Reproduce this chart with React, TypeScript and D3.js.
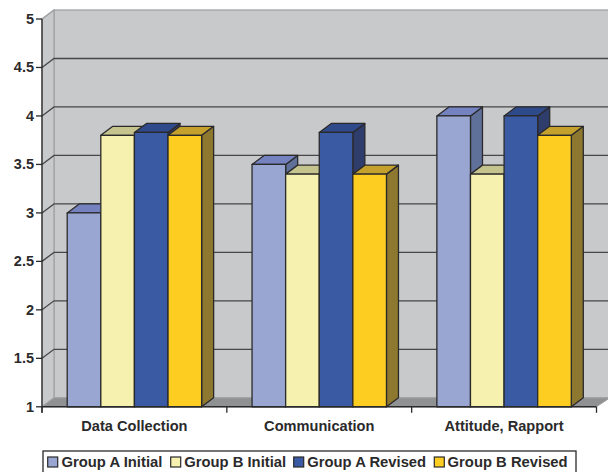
import React from "react";
import * as d3 from "d3";

const categories = ["Data Collection", "Communication", "Attitude, Rapport"];
const seriesNames = ["Group A Initial", "Group B Initial", "Group A Revised", "Group B Revised"];
const groupAInitial = [3, 3.5, 4];
const groupBInitial = [3.8, 3.4, 3.4];
const groupARevised = [3.83, 3.83, 4];
const groupBRevised = [3.8, 3.4, 3.8];
const seriesValues = [groupAInitial, groupBInitial, groupARevised, groupBRevised];
const yTicks = [1, 1.5, 2, 2.5, 3, 3.5, 4, 4.5, 5];

// front face, top face and side face of each series
const frontFill = ["#9aa6d2", "#f6f1ae", "#3a5aa4", "#fdcd22"];
const topFill = ["#7482c0", "#c6c48e", "#2f4a8a", "#c4a02c"];
const sideFill = ["#5f7099", "#8f8c5c", "#2e3d6c", "#8e772e"];

const ink = "#2b2a2b";
const wall = "#c8c9cb";
const wallEdge = "#a3a4a6";
const floor = "#8f9193";
const font = "'Liberation Sans', Arial, sans-serif";

const W = 608;
const H = 472;
const depthX = 12;
const depthY = 9;

const y = d3.scaleLinear().domain([1, 5]).range([406.8, 19]);
const x0 = d3.scaleBand<string>().domain(categories).range([42, 596.5]);
const x1 = d3
  .scaleBand<string>()
  .domain(seriesNames)
  .range([0, x0.bandwidth()])
  .paddingInner(0)
  .paddingOuter(0.75);

const poly = (pts: [number, number][]) => pts.map((p) => p.join(",")).join(" ");

function Bar({ x, w, top, s }: { x: number; w: number; top: number; s: number }) {
  const bottom = y(1);
  return (
    <g stroke={ink} strokeWidth={1.3} strokeLinejoin="round">
      <polygon
        points={poly([
          [x + w, top],
          [x + w + depthX, top - depthY],
          [x + w + depthX, bottom - depthY],
          [x + w, bottom],
        ])}
        fill={sideFill[s]}
      />
      <polygon
        points={poly([
          [x, top],
          [x + depthX, top - depthY],
          [x + w + depthX, top - depthY],
          [x + w, top],
        ])}
        fill={topFill[s]}
      />
      <rect x={x} y={top} width={w} height={bottom - top} fill={frontFill[s]} />
    </g>
  );
}

const legendSwatches = [47.7, 170.7, 293.7, 434.3];
const legendLabels = [61.5, 184.2, 307.2, 447.6];

export default function App() {
  const left = x0.range()[0];
  const right = x0.range()[1];
  const bottom = y(1);
  const top = y(5);
  const ticksX = [...categories.map((c) => x0(c) as number), right];

  return (
    <svg
      width={W}
      height={H}
      viewBox={`0 0 ${W} ${H}`}
      style={{ position: "absolute", left: 0, top: 0, background: "#fff" }}
    >
      {/* chart walls and floor */}
      <rect x={left + depthX} y={top - depthY} width={W - left - depthX + 2} height={bottom - top} fill={wall} stroke={wallEdge} strokeWidth={1.3} />
      <polygon
        points={poly([
          [left, top],
          [left + depthX, top - depthY],
          [left + depthX, bottom - depthY],
          [left, bottom],
        ])}
        fill={wall}
        stroke={wallEdge}
        strokeWidth={1.3}
      />
      <polygon
        points={poly([
          [left, bottom],
          [left + depthX, bottom - depthY],
          [W + 2, bottom - depthY],
          [right, bottom],
        ])}
        fill={floor}
        stroke={wallEdge}
        strokeWidth={1}
      />

      {/* gridlines along the side and back walls */}
      {yTicks.slice(1).map((t) =>
        t === 5 ? null : (
          <polyline
            key={t}
            points={poly([
              [left, y(t)],
              [left + depthX, y(t) - depthY],
              [W, y(t) - depthY],
            ])}
            fill="none"
            stroke="#47474a"
            strokeWidth={1.3}
          />
        )
      )}
      <line x1={left} y1={top} x2={left + depthX} y2={top - depthY} stroke={wallEdge} strokeWidth={1.3} />

      {/* bars, painted left to right so each front face covers its neighbour's side */}
      {categories.map((c, ci) =>
        seriesNames.map((n, si) => (
          <Bar
            key={c + n}
            x={(x0(c) as number) + (x1(n) as number)}
            w={x1.bandwidth()}
            top={y(seriesValues[si][ci])}
            s={si}
          />
        ))
      )}

      {/* axes */}
      <line x1={left} y1={top} x2={left} y2={bottom + 6} stroke={ink} strokeWidth={1.3} />
      <line x1={left} y1={bottom} x2={right} y2={bottom} stroke={ink} strokeWidth={1.5} />
      {yTicks.map((t) => (
        <g key={t}>
          <line x1={left - 6} y1={y(t)} x2={left} y2={y(t)} stroke={ink} strokeWidth={1.3} />
          <text
            x={left - 8}
            y={y(t) + 5}
            textAnchor="end"
            fontFamily={font}
            fontWeight="bold"
            fontSize={14.5}
            fill={ink}
          >
            {t}
          </text>
        </g>
      ))}
      {ticksX.map((t) => (
        <line key={t} x1={t} y1={bottom} x2={t} y2={bottom + 6} stroke={ink} strokeWidth={1.3} />
      ))}
      {categories.map((c) => (
        <text
          key={c}
          x={(x0(c) as number) + x0.bandwidth() / 2}
          y={431}
          textAnchor="middle"
          fontFamily={font}
          fontWeight="bold"
          fontSize={14.6}
          fill={ink}
        >
          {c}
        </text>
      ))}

      {/* legend */}
      <rect x={43} y={451} width={533} height={30} fill="#fff" stroke={ink} strokeWidth={1.3} />
      {seriesNames.map((n, i) => (
        <g key={n}>
          <rect x={legendSwatches[i]} y={457} width={10} height={10} fill={frontFill[i]} stroke={ink} strokeWidth={1.2} />
          <text
            x={legendLabels[i]}
            y={467}
            fontFamily={font}
            fontWeight="bold"
            fontSize={14.8}
            fill={ink}
          >
            {n}
          </text>
        </g>
      ))}
    </svg>
  );
}
